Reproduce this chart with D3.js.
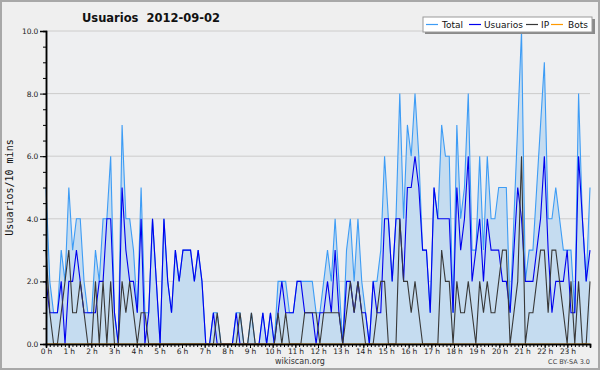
<!DOCTYPE html>
<html>
<head>
<meta charset="utf-8">
<script src="https://cdn.jsdelivr.net/npm/d3@7"></script>
<style>
  body { margin: 0; background: #fff; }
  text { font-family: "DejaVu Sans", sans-serif; }
</style>
</head>
<body>
<div id="chart"></div>
<script>
// data: one value every 10 minutes, 144 points for the day
var total = [
  5,2,1,1,3,2,5,3,4,4, 2,1,1,3,2,4,4,6,1,0,
  7,4,4,3,1,5,1,1,4,2, 0,4,2,1,3,2,3,3,3,2,
  3,2,0,0,1,1,0,0,0,0, 1,1,0,0,1,0,0,1,0,1,
  0,2,2,2,1,1,2,2,2,2, 2,1,1,2,3,2,4,2,0,3,
  4,2,4,2,1,0,2,2,3,6, 4,2,4,8,4,7,6,8,6,3,
  3,1,5,4,7,6,6,1,7,4, 5,8,3,3,6,3,6,4,4,5,
  5,5,1,4,7,10,2,3,3,5, 7,9,4,4,5,4,3,3,3,1,
  8,4,2,5
];
var usuarios = [
  2,1,1,1,2,0,2,2,3,2, 1,1,1,1,2,2,4,4,1,0,
  5,3,2,2,1,4,0,1,4,2, 0,4,2,1,3,2,3,3,3,2,
  3,2,0,0,1,0,0,0,0,0, 1,0,0,0,0,0,0,1,0,1,
  0,1,2,1,1,1,2,2,1,1, 1,0,1,1,2,1,3,1,0,2,
  2,1,2,1,1,0,2,1,1,4, 4,2,4,4,2,5,5,6,5,3,
  3,1,5,4,4,4,4,1,5,3, 4,6,2,3,4,2,4,3,3,3,
  2,2,1,3,5,4,2,2,2,3, 4,6,3,1,2,2,2,3,1,1,
  6,4,2,3
];
var ip = [
  3,1,0,0,1,2,3,1,1,2, 1,0,0,2,0,2,0,2,0,0,
  2,1,2,1,0,1,1,0,0,0, 0,0,0,0,0,0,0,0,0,0,
  0,0,0,0,0,1,0,0,0,0, 0,1,0,0,1,0,0,0,0,0,
  0,1,0,1,0,0,0,0,1,1, 1,1,0,1,1,1,1,1,0,1,
  2,1,2,1,0,0,0,1,2,2, 0,0,0,4,2,2,1,2,1,0,
  0,0,0,0,3,2,2,0,2,1, 1,2,1,0,2,1,2,1,1,2,
  3,3,0,1,2,6,0,1,1,2, 3,3,1,3,3,2,1,0,2,0,
  2,0,0,2
];
var bots = [
  0,0,0,0,0,0,0,0,0,0, 0,0,0,0,0,0,0,0,0,0,
  0,0,0,0,0,0,0,0,0,0, 0,0,0,0,0,0,0,0,0,0,
  0,0,0,0,0,0,0,0,0,0, 0,0,0,0,0,0,0,0,0,0,
  0,0,0,0,0,0,0,0,0,0, 0,0,0,0,0,0,0,0,0,0,
  0,0,0,0,0,0,0,0,0,0, 0,0,0,0,0,0,0,0,0,0,
  0,0,0,0,0,0,0,0,0,0, 0,0,0,0,0,0,0,0,0,0,
  0,0,0,0,0,0,0,0,0,0, 0,0,0,0,0,0,0,0,0,0,
  0,0,0,0
];
var hourLabels = ["0 h","1 h","2 h","3 h","4 h","5 h","6 h","7 h","8 h","9 h","10 h","11 h",
  "12 h","13 h","14 h","15 h","16 h","17 h","18 h","19 h","20 h","21 h","22 h","23 h"];
var yTicks = [0, 2, 4, 6, 8, 10];
var seriesNames = ["Total", "Usuarios", "IP", "Bots"];

var width = 600, height = 370;
// plot box (don't use "top", it clashes with window.top)
var plotL = 46, plotR = 590, plotT = 31, plotB = 344;

var svg = d3.select("#chart").append("svg")
    .attr("width", width)
    .attr("height", height);

// background + frame
svg.append("rect").attr("x", 0).attr("y", 0).attr("width", width).attr("height", height)
    .attr("fill", "#efefef");
svg.append("rect").attr("x", plotL).attr("y", plotT).attr("width", plotR - plotL).attr("height", plotB - plotT)
    .attr("fill", "#eeeff1");
svg.append("rect").attr("x", 1).attr("y", 1).attr("width", width - 2).attr("height", height - 2)
    .attr("fill", "none").attr("stroke", "#a8a8a8").attr("stroke-width", 2);

// scales
var x = d3.scaleLinear().domain([0, total.length - 1]).range([plotL, plotR]);
var xHour = d3.scaleLinear().domain([0, 24]).range([plotL, plotR]);
var y = d3.scaleLinear().domain([0, 10]).range([plotB, plotT]);

// grid
svg.append("g").selectAll("line")
    .data(yTicks.filter(function(d) { return d > 0; }))
    .join("line")
    .attr("x1", plotL).attr("x2", plotR)
    .attr("y1", function(d) { return y(d); })
    .attr("y2", function(d) { return y(d); })
    .attr("stroke", "#cccccc").attr("stroke-width", 1);

// total area
var area = d3.area()
    .x(function(d, i) { return x(i); })
    .y0(y(0))
    .y1(function(d) { return y(d); });
svg.append("path").datum(total)
    .attr("d", area)
    .attr("fill", "#c5dcf0");

var line = d3.line()
    .x(function(d, i) { return x(i); })
    .y(function(d) { return y(d); });

var colors = ["#3d9cf5", "#0000ee", "#383838", "#ff9900"];
[total, usuarios, ip, bots].forEach(function(s, k) {
    svg.append("path").datum(s)
        .attr("d", line)
        .attr("fill", "none")
        .attr("stroke", colors[k])
        .attr("stroke-width", 1.1);
});

// axes
var yAxis = d3.axisLeft(y).tickValues(yTicks).tickFormat(d3.format(".1f")).tickSize(6).tickPadding(2);
var yMinor = d3.axisLeft(y).tickValues(d3.range(0, 10.01, 0.5)).tickFormat("").tickSize(3);
var xAxis = d3.axisBottom(xHour).tickValues(d3.range(24))
    .tickFormat(function(d) { return hourLabels[d]; }).tickSize(4).tickPadding(1);
var xMinor = d3.axisBottom(xHour).tickValues(d3.range(0, 24.01, 1 / 6)).tickFormat("").tickSize(3);

function styleAxis(g) {
    g.selectAll("path.domain").attr("stroke", "#000").attr("stroke-width", 1.5);
    g.selectAll("line").attr("stroke", "#000");
    g.selectAll("text").attr("font-family", "DejaVu Sans").attr("font-size", 7.5)
        .attr("letter-spacing", -0.2).attr("fill", "#222");
}

svg.append("g").attr("transform", "translate(" + plotL + ",0)").call(yMinor).call(styleAxis);
svg.append("g").attr("transform", "translate(" + plotL + ",0)").call(yAxis).call(styleAxis);
svg.append("g").attr("transform", "translate(0," + plotB + ")").call(xMinor).call(styleAxis);
svg.append("g").attr("transform", "translate(0," + plotB + ")").call(xAxis).call(styleAxis);

// titles
svg.append("text")
    .attr("x", 151).attr("y", 22)
    .attr("text-anchor", "middle")
    .attr("font-size", 11.5).attr("font-weight", "bold").attr("fill", "#111")
    .style("white-space", "pre")
    .text("Usuarios  2012-09-02");

svg.append("text")
    .attr("transform", "translate(13," + ((plotT + plotB) / 2) + ")rotate(-90)")
    .attr("text-anchor", "middle")
    .style("font-family", "DejaVu Sans Mono")
    .attr("font-size", 10).attr("fill", "#111")
    .text("Usuarios/10 mins");

svg.append("text")
    .attr("x", 300).attr("y", 364)
    .attr("text-anchor", "middle")
    .attr("font-size", 8).attr("fill", "#333")
    .text("wikiscan.org");

svg.append("text")
    .attr("x", 590).attr("y", 364)
    .attr("text-anchor", "end")
    .attr("font-size", 6.5).attr("fill", "#444")
    .text("CC BY-SA 3.0");

// legend
var lg = svg.append("g").attr("transform", "translate(423,17)");
lg.append("rect").attr("x", 2).attr("y", 2).attr("width", 170).attr("height", 15).attr("fill", "#8a8a8a");
lg.append("rect").attr("x", 0).attr("y", 0).attr("width", 169).attr("height", 15)
    .attr("fill", "#ffffff").attr("stroke", "#9a9a9a").attr("stroke-width", 1);
var legX = [3, 46, 103, 128];
var legTextX = [19, 61, 118, 145];
seriesNames.forEach(function(name, k) {
    lg.append("line")
        .attr("x1", legX[k]).attr("x2", legX[k] + 12)
        .attr("y1", 7.5).attr("y2", 7.5)
        .attr("stroke", colors[k]).attr("stroke-width", 1.2);
    lg.append("text")
        .attr("x", legTextX[k]).attr("y", 11)
        .attr("font-size", 9).attr("fill", "#111")
        .text(name);
});
</script>
</body>
</html>
